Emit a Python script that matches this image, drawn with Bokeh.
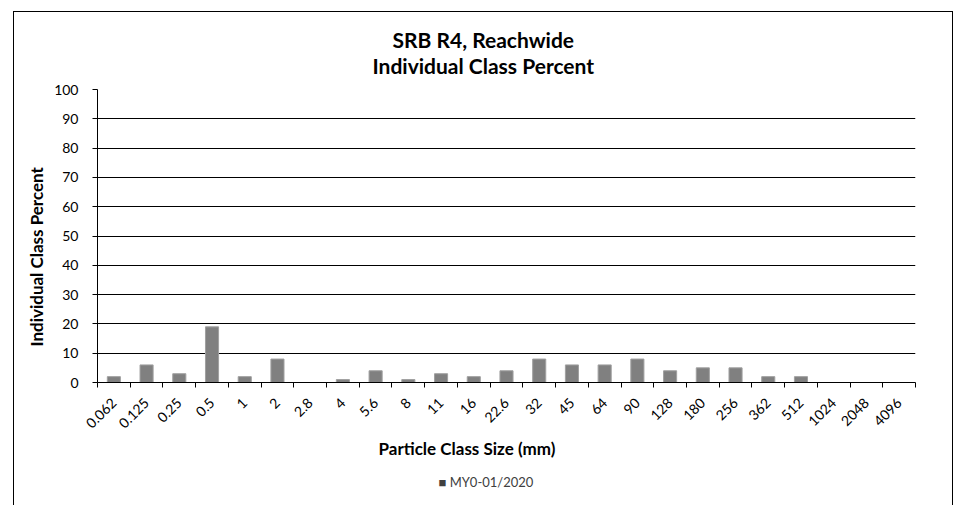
import math
from bokeh.plotting import figure
from bokeh.models import (Range1d, FixedTicker, Title)
from bokeh.embed import file_html
from bokeh.resources import INLINE

# ---- data ----
categories = ["0.062", "0.125", "0.25", "0.5", "1", "2", "2.8", "4", "5.6", "8",
              "11", "16", "22.6", "32", "45", "64", "90", "128", "180", "256",
              "362", "512", "1024", "2048", "4096"]
percent_my0 = [2, 6, 3, 19, 2, 8, 0, 1, 4, 1,
               3, 2, 4, 8, 6, 6, 8, 4, 5, 5,
               2, 2, 0, 0, 0]
y_ticks = [0, 10, 20, 30, 40, 50, 60, 70, 80, 90, 100]
series_name = "MY0-01/2020"
title_lines = ["SRB R4, Reachwide", "Individual Class Percent"]
x_title = "Particle Class Size (mm)"
y_title = "Individual Class Percent"

FONT = "Lato"
n = len(categories)
xs = list(range(n))

p = figure(frame_width=818, frame_height=293, height=491, output_backend="svg",
           toolbar_location=None,
           x_range=Range1d(-0.5, n - 0.5), y_range=Range1d(0, 100),
           min_border_left=83, min_border_right=37, min_border_top=77,
           min_border_bottom=0)
p.styles = {"margin-left": "13px", "margin-top": "11px",
            "border-top": "1px solid #000", "border-left": "1px solid #000",
            "border-right": "1px solid #000"}
p.outline_line_color = None
p.background_fill_color = "white"
p.border_fill_color = "white"

bars = p.vbar(x=xs, top=percent_my0, width=0.4, fill_color="#808080",
              line_color="#a0a0a0", line_width=1)

# x axis: labels at category centres, ticks at category boundaries
xax = p.xaxis[0]
xax.ticker = FixedTicker(ticks=xs, minor_ticks=[i - 0.5 for i in range(n + 1)])
xax.major_label_overrides = {i: c for i, c in enumerate(categories)}
xax.major_tick_line_color = None
xax.major_tick_out = 5
xax.major_tick_in = 0
xax.minor_tick_line_color = "black"
xax.minor_tick_out = 5
xax.minor_tick_in = 0
xax.major_label_orientation = math.pi / 4
xax.major_label_standoff = 13
xax.major_label_text_font = FONT
xax.major_label_text_font_size = "14px"
xax.major_label_text_color = "black"
xax.axis_line_color = "black"

yax = p.yaxis[0]
yax.ticker = FixedTicker(ticks=y_ticks)
yax.major_tick_out = 5
yax.major_tick_in = 0
yax.major_tick_line_color = "black"
yax.minor_tick_line_color = None
yax.major_label_standoff = 14
yax.major_label_text_font = FONT
yax.major_label_text_font_size = "14px"
yax.major_label_text_color = "black"
yax.axis_line_color = "black"

p.xgrid.grid_line_color = None
p.ygrid.ticker = FixedTicker(ticks=y_ticks)
p.ygrid.grid_line_color = "black"
p.ygrid.grid_line_width = 1

# chart title (two lines): second line added first (closest to the plot)
t2 = Title(text=title_lines[1], align="left", offset=275, standoff=24,
           text_font=FONT, text_font_style="bold", text_font_size="21px",
           text_color="black")
t1 = Title(text=title_lines[0], align="left", offset=295, standoff=-27,
           text_font=FONT, text_font_style="bold", text_font_size="21px",
           text_color="black")
p.add_layout(t2, "above")
p.add_layout(t1, "above")

# axis titles
xt = Title(text=x_title, align="left", offset=281, standoff=1,
           text_font=FONT, text_font_style="bold", text_font_size="17px",
           text_color="black")
p.add_layout(xt, "below")
yt = Title(text=y_title, align="left", offset=36, standoff=10,
           text_font=FONT, text_font_style="bold", text_font_size="17px",
           text_color="black")
p.add_layout(yt, "left")

# series key below the axis title
key = Title(text="\u25a0 " + series_name, align="left", offset=341, standoff=29,
            vertical_align="top",
            text_font=FONT, text_font_style="normal", text_font_size="13px",
            text_color="#404040")
p.add_layout(key, "below")

open("out.html", "w").write(file_html(p, INLINE))
